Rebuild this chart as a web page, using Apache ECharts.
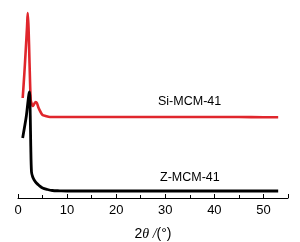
<!DOCTYPE html>
<html><head><meta charset="utf-8">
<script src="https://cdn.jsdelivr.net/npm/echarts@6/dist/echarts.min.js"></script>
<style>html,body{margin:0;padding:0;background:#fff}#c{width:300px;height:242px}</style>
</head><body><div id="c"></div>
<script>
// 2θ (degrees) and intensity (arbitrary units, offset traces)
const siTheta = [0.96, 1.3, 1.6, 1.85, 1.98, 2.15, 2.35, 2.59, 2.8, 3.0, 3.3, 3.6, 3.85, 4.2, 4.6, 5.0, 5.6, 6.5, 8, 10, 15, 20, 25, 30, 35, 40, 45, 50, 53];
const siValue = [100, 125, 150, 172, 185, 170, 135, 98, 94, 92, 94, 96, 95, 90, 86, 83, 82, 81, 81, 81, 81, 81, 81, 81, 81, 81, 81, 80.8, 80.8];
const zTheta = [0.95, 1.3, 1.7, 2.0, 2.2, 2.35, 2.5, 2.6, 2.75, 3.0, 3.3, 3.75, 4.3, 5.0, 6.0, 7.0, 8.5, 10, 15, 20, 25, 30, 35, 40, 45, 50, 53];
const zValue = [60, 70, 82, 95, 103, 106, 82, 52, 26, 21, 18, 15, 12.5, 10, 8.5, 7.5, 7.2, 7, 7, 7, 7, 7, 7, 7, 7, 7, 7];
const xTicks = [0, 10, 20, 30, 40, 50];
const labels = ['Si-MCM-41', 'Z-MCM-41'];

const toPairs = (xs, ys) => xs.map((x, i) => [x, ys[i]]);
const chart = echarts.init(document.getElementById('c'));
chart.setOption({
  animation: false,
  grid: {left: 18, right: 12, top: 0, bottom: 44, containLabel: false, outerBoundsMode: 'none'},
  xAxis: {
    type: 'value', min: 0, max: 55, interval: 10,
    axisLine: {show: true, lineStyle: {color: '#000', width: 1}},
    axisTick: {show: true, inside: true, length: 4, lineStyle: {color: '#000'}},
    minorTick: {show: true, splitNumber: 2, length: 3, lineStyle: {color: '#000'}},
    splitLine: {show: false},
    axisLabel: {color: '#000', fontSize: 13, fontFamily: 'Liberation Sans, Arial', margin: 6,
      formatter: v => xTicks.includes(v) ? String(v) : ''},
    name: '{n|2}{i|θ /}{n|(°)}', nameLocation: 'middle', nameGap: 29,
    nameTextStyle: {rich: {
      n: {fontSize: 14, color: '#000', fontFamily: 'Liberation Sans, Arial'},
      i: {fontSize: 14, color: '#000', fontStyle: 'italic', fontFamily: 'Liberation Serif, Times New Roman'}
    }}
  },
  yAxis: {type: 'value', min: 0, max: 198, show: false},
  series: [
    {type: 'line', data: toPairs(siTheta, siValue), showSymbol: false, smooth: 0.3,
     lineStyle: {color: '#e0262c', width: 2.6}, z: 2},
    {type: 'line', data: toPairs(zTheta, zValue), showSymbol: false, smooth: 0.3,
     lineStyle: {color: '#000', width: 2.8}, z: 3}
  ],
  graphic: [
    {type: 'text', left: 158, top: 95, style: {text: labels[0], fontSize: 12.5, fill: '#000', fontFamily: 'Liberation Sans, Arial'}},
    {type: 'text', left: 160, top: 171, style: {text: labels[1], fontSize: 12.5, fill: '#000', fontFamily: 'Liberation Sans, Arial'}}
  ]
});
</script></body></html>
